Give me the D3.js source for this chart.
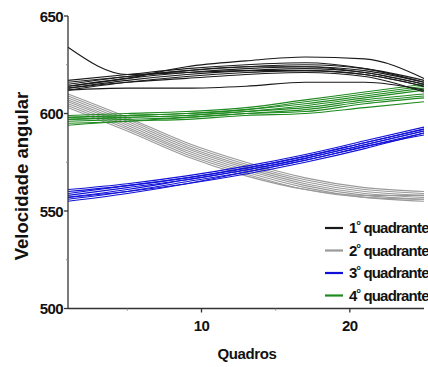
<!DOCTYPE html>
<html>
<head>
<meta charset="utf-8">
<script src="https://cdn.jsdelivr.net/npm/d3@7"></script>
<style>
  html, body { margin: 0; padding: 0; background: #fff; }
  svg { display: block; }
  text { font-family: "Liberation Sans", Arial, sans-serif; fill: #111; }
</style>
</head>
<body>
<svg id="chart" width="428" height="367"></svg>
<script>
// ── Data ───────────────────────────────────────────────────────────────────

const frames = [1, 5, 9, 13, 17, 21, 25];

// 1º quadrante (black)
const q1 = [
  [612, 616, 619, 621, 622, 620, 614],
  [613, 617, 620, 622, 623, 621, 615],
  [614, 618, 621, 623, 624, 622, 616],
  [615, 619, 622, 624, 625, 623, 617],
  [616, 619, 622, 624, 624, 621, 615],
  [617, 620, 623, 625, 626, 623, 616],
  [612, 613, 613, 614, 616, 616, 612],
  [614, 618, 624, 627, 629, 628, 618],
  [634, 620, 621, 622, 622, 620, 614],
  [613, 616, 618, 620, 621, 619, 611]
];

// 2º quadrante (gray)
const q2 = [
  [610, 598, 585, 575, 567, 562, 560],
  [609, 597, 584, 574, 566, 561, 559],
  [608, 596, 583, 573, 565, 560, 558],
  [607, 595, 582, 572, 564, 559, 557],
  [606, 594, 581, 571, 563, 558, 556],
  [605, 593, 580, 570, 562, 557, 555],
  [604, 592, 579, 569, 561, 557, 556],
  [603, 591, 578, 568, 561, 558, 558]
];

// 3º quadrante (blue)
const q3 = [
  [561, 564, 568, 573, 579, 586, 593],
  [560, 563, 567, 572, 578, 585, 592],
  [559, 563, 567, 572, 578, 585, 592],
  [558, 562, 566, 571, 577, 584, 591],
  [557, 561, 566, 571, 577, 584, 591],
  [556, 560, 565, 570, 576, 583, 590],
  [555, 559, 564, 570, 576, 583, 589],
  [557, 560, 564, 569, 575, 582, 590]
];

// 4º quadrante (green)
const q4 = [
  [599, 600, 601, 603, 607, 611, 615],
  [598, 599, 600, 602, 606, 610, 614],
  [598, 599, 600, 602, 605, 609, 613],
  [597, 598, 599, 601, 604, 608, 612],
  [597, 598, 599, 601, 603, 607, 610],
  [596, 597, 598, 600, 602, 606, 609],
  [595, 596, 598, 600, 601, 605, 608],
  [594, 596, 597, 599, 600, 603, 606]
];

const seriesNames  = ['1', '2', '3', '4'];
const seriesColors = ['#1a1a1a', '#9a9a9a', '#1010d8', '#1f8a1f'];
const seriesData   = [q1, q2, q3, q4];

const yMajor = [500, 550, 600, 650];
const yMinor = [525, 575, 625];
const xMajor = [10, 20];
const xMinor = [5, 15];

// ── Scales ─────────────────────────────────────────────────────────────────

const svg = d3.select('#chart');
const x = d3.scaleLinear().domain([1, 25]).range([68, 424]);
const y = d3.scaleLinear().domain([500, 650]).range([308.5, 16]);

// ── Curves ─────────────────────────────────────────────────────────────────

const line = d3.line()
  .x((d, i) => x(frames[i]))
  .y(d => y(d))
  .curve(d3.curveMonotoneX);

const order = [1, 2, 3, 0]; // draw black on top
order.forEach(s => {
  svg.append('g')
    .selectAll('path')
    .data(seriesData[s])
    .join('path')
    .attr('d', line)
    .attr('fill', 'none')
    .attr('stroke', seriesColors[s])
    .attr('stroke-width', 1.1);
});

// ── Axes ───────────────────────────────────────────────────────────────────

const axisColor = '#333';

const yAxis = svg.append('g').attr('transform', `translate(${x.range()[0]},0)`);
yAxis.append('line')
  .attr('y1', y(650)).attr('y2', y(500))
  .attr('stroke', axisColor).attr('stroke-width', 1.3);
yAxis.selectAll('.maj').data(yMajor).join('line')
  .attr('class', 'maj')
  .attr('x1', -4).attr('x2', 0)
  .attr('y1', d => y(d)).attr('y2', d => y(d))
  .attr('stroke', axisColor).attr('stroke-width', 1.3);
yAxis.selectAll('.min').data(yMinor).join('line')
  .attr('class', 'min')
  .attr('x1', -2).attr('x2', 0)
  .attr('y1', d => y(d)).attr('y2', d => y(d))
  .attr('stroke', '#888').attr('stroke-width', 1);
yAxis.selectAll('text').data(yMajor).join('text')
  .attr('x', -5).attr('y', d => y(d) + 5.5)
  .attr('text-anchor', 'end')
  .attr('font-size', 15)
  .attr('font-weight', 'bold')
  .attr('letter-spacing', -0.6)
  .text(d => d);

const xAxis = svg.append('g').attr('transform', `translate(0,${y.range()[0]})`);
xAxis.append('line')
  .attr('x1', x(1)).attr('x2', x(25))
  .attr('stroke', axisColor).attr('stroke-width', 1.3);
xAxis.selectAll('.maj').data(xMajor).join('line')
  .attr('class', 'maj')
  .attr('x1', d => x(d)).attr('x2', d => x(d))
  .attr('y1', 0).attr('y2', 4)
  .attr('stroke', axisColor).attr('stroke-width', 1.3);
xAxis.selectAll('.min').data(xMinor).join('line')
  .attr('class', 'min')
  .attr('x1', d => x(d)).attr('x2', d => x(d))
  .attr('y1', 0).attr('y2', 2)
  .attr('stroke', '#888').attr('stroke-width', 1);
xAxis.selectAll('text').data(xMajor).join('text')
  .attr('x', d => x(d)).attr('y', 22)
  .attr('text-anchor', 'middle')
  .attr('font-size', 15)
  .attr('font-weight', 'bold')
  .attr('letter-spacing', -0.6)
  .text(d => d);

// ── Axis titles ────────────────────────────────────────────────────────────

svg.append('text')
  .attr('transform', 'translate(28,176) rotate(-90)')
  .attr('text-anchor', 'middle')
  .attr('font-size', 18.5)
  .attr('font-weight', 'bold')
  .text('Velocidade angular');

svg.append('text')
  .attr('x', 247).attr('y', 359)
  .attr('text-anchor', 'middle')
  .attr('font-size', 15)
  .attr('font-weight', 'bold')
  .attr('letter-spacing', -0.4)
  .text('Quadros');

// ── Legend ─────────────────────────────────────────────────────────────────

const legend = svg.append('g');
seriesNames.forEach((name, i) => {
  const ly = 228 + i * 22.5;
  legend.append('line')
    .attr('x1', 325).attr('x2', 343)
    .attr('y1', ly).attr('y2', ly)
    .attr('stroke', seriesColors[i]).attr('stroke-width', 2.2);
  const t = legend.append('text')
    .attr('x', 349).attr('y', ly + 5)
    .attr('font-size', 15)
    .attr('font-weight', 'bold')
    .attr('letter-spacing', -0.8);
  t.append('tspan').text(name);
  t.append('tspan').attr('font-size', 7).attr('dy', -8).text('o');
  t.append('tspan').attr('dy', 8).text(' quadrante');
});
</script>
</body>
</html>
